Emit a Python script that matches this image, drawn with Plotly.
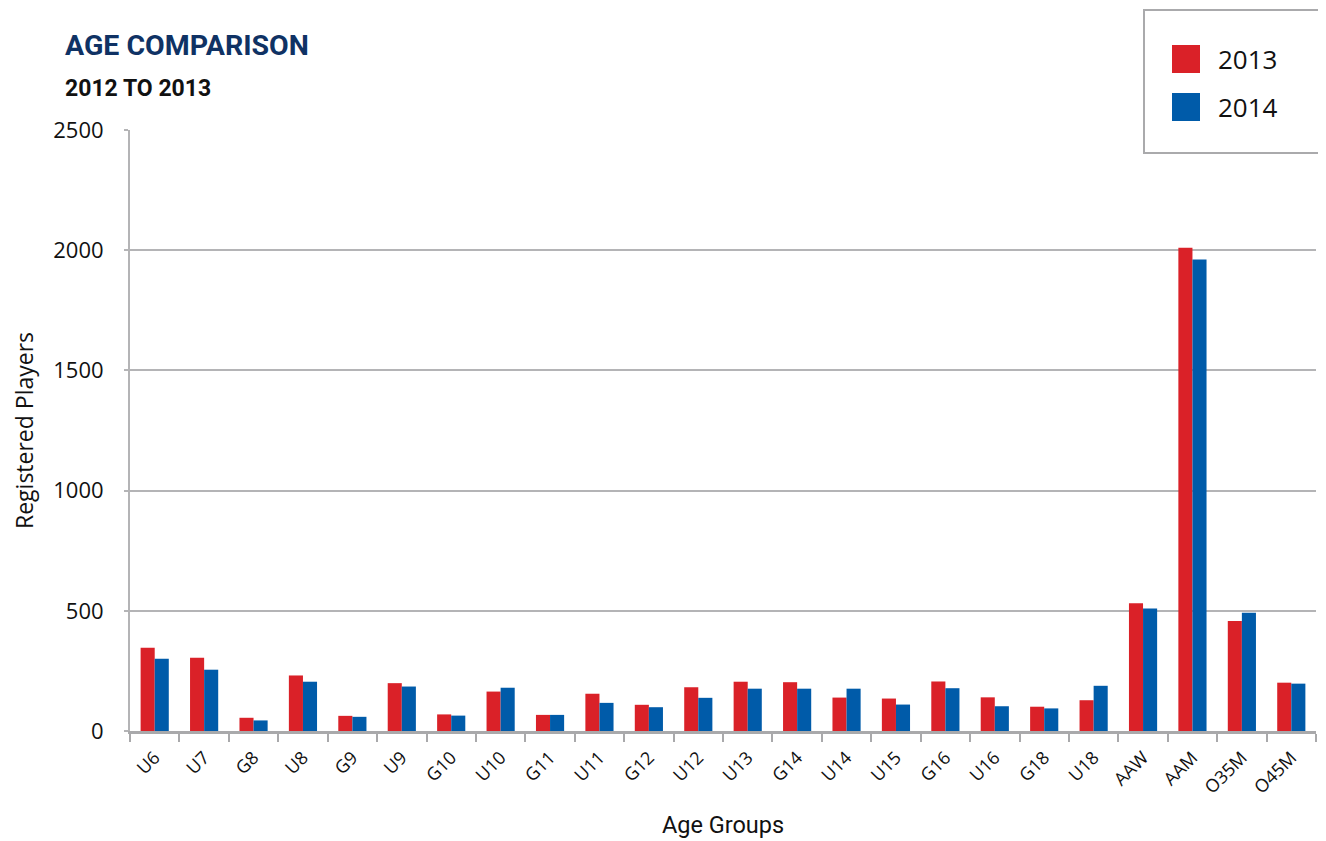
import plotly.graph_objects as go

categories = ["U6", "U7", "G8", "U8", "G9", "U9", "G10", "U10", "G11", "U11", "G12", "U12",
              "U13", "G14", "U14", "U15", "G16", "U16", "G18", "U18", "AAW", "AAM", "O35M", "O45M"]
values_2013 = [346, 305, 55, 231, 63, 199, 69, 164, 67, 155, 109, 182,
               205, 203, 139, 135, 206, 140, 101, 128, 531, 2010, 458, 201]
values_2014 = [301, 255, 44, 205, 59, 185, 64, 180, 67, 117, 99, 138,
               176, 176, 176, 110, 178, 103, 94, 188, 510, 1961, 492, 197]
series_names = ["2013", "2014"]
series_colors = ["#da2128", "#005ba9"]
y_ticks = [0, 500, 1000, 1500, 2000, 2500]

# page has an 8px body margin: figure coordinates = screen coordinates - 8
OFF = 8
W, H = 1326 - OFF, 841 - OFF
L, R, T, B = 130 - OFF, 10, 130 - OFF, 110
PW, PH = W - L - R, H - T - B


def px_x(x):
    return (x - OFF - L) / PW


def px_y(y):
    return (H - B - (y - OFF)) / PH


fig = go.Figure()
for name, vals, col in zip(series_names, [values_2013, values_2014], series_colors):
    fig.add_trace(go.Bar(x=categories, y=vals, name=name, marker_color=col,
                         marker_line_width=0, showlegend=False))

grid_col = "#b4b4b6"
fig.update_layout(
    width=W, height=H,
    margin=dict(l=L, r=R, t=T, b=B),
    paper_bgcolor="white", plot_bgcolor="white",
    barmode="group", bargap=0.43, bargroupgap=0,
    font=dict(family="Open Sans", color="#111111"),
    xaxis=dict(
        automargin=False,
        tickangle=-45, tickfont=dict(size=18, family="Open Sans", color="#111"),
        ticklabelstandoff=6,
        showline=True, linecolor="#a9a9ab", linewidth=3,
        ticks="outside", tickson="boundaries", ticklen=8, tickwidth=2, tickcolor="#a9a9ab",
        showgrid=False,
        title=dict(text="Age Groups", font=dict(size=23.5, family="Roboto", color="#111"), standoff=20),
    ),
    yaxis=dict(
        automargin=False,
        range=[0, 2500], tickvals=y_ticks, ticktext=[str(v) for v in y_ticks],
        tickfont=dict(size=22, family="Open Sans", color="#111"),
        ticklabelstandoff=16,
        showline=True, linecolor=grid_col, linewidth=2,
        ticks="outside", ticklen=4, tickwidth=2, tickcolor=grid_col,
        showgrid=True, gridcolor=grid_col, gridwidth=2,
        zeroline=False,
        title=dict(text="Registered Players", font=dict(size=23, family="Open Sans", color="#111"), standoff=30),
    ),
)

# Titles
fig.add_annotation(text="<b>AGE COMPARISON</b>", xref="paper", yref="paper",
                   x=px_x(63), y=px_y(46), xanchor="left", yanchor="middle", showarrow=False,
                   font=dict(size=28.5, family="Roboto", color="#0f3264"))
fig.add_annotation(text="<b>2012 TO 2013</b>", xref="paper", yref="paper",
                   x=px_x(63), y=px_y(88), xanchor="left", yanchor="middle", showarrow=False,
                   font=dict(size=23, family="Roboto", color="#111111"))

# Legend box
fig.add_shape(type="rect", xref="paper", yref="paper",
              x0=px_x(1144), x1=px_x(1321), y0=px_y(153), y1=px_y(10),
              line=dict(color="#aaaaac", width=2), fillcolor="white", layer="above")
for i, (name, col) in enumerate(zip(series_names, series_colors)):
    cy = 59 + 48 * i
    fig.add_shape(type="rect", xref="paper", yref="paper",
                  x0=px_x(1172), x1=px_x(1200), y0=px_y(cy + 14), y1=px_y(cy - 14),
                  line=dict(width=0), fillcolor=col, layer="above")
    fig.add_annotation(text=name, xref="paper", yref="paper",
                       x=px_x(1216), y=px_y(cy), xanchor="left", yanchor="middle", showarrow=False,
                       font=dict(size=26, family="Open Sans", color="#111111"))

fig.write_html("out.html")
